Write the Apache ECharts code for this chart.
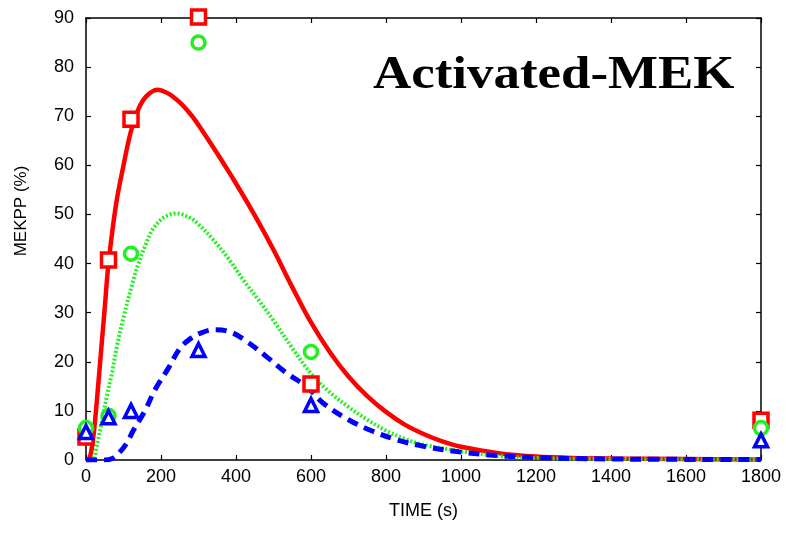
<!DOCTYPE html>
<html><head><meta charset="utf-8">
<script src="https://cdn.jsdelivr.net/npm/echarts@6/dist/echarts.min.js"></script>
<style>html,body{margin:0;padding:0;background:#fff}#c{width:786px;height:533px}</style>
</head><body><div id="c"></div>
<script>
// Experimental data points (time in s, MEKPP %)
const expTimes = [0, 60, 120, 300, 600, 1800];
const expRed = [4.7, 40.7, 69.4, 90.2, 15.5, 8.1];
const expGreen = [6.5, 9.0, 42.0, 85.0, 22.0, 6.5];
const expBlue = [5.7, 8.7, 10.0, 22.4, 11.2, 4.0];

// Model curves
const redT = [0, 10, 20, 30, 40, 50, 60, 80, 100, 120, 140, 160, 190, 220, 250, 280, 300, 350, 400, 450, 500, 550, 600, 650, 700, 750, 800, 850, 900, 950, 1000, 1100, 1200, 1300, 1400, 1600, 1800];
const redV = [0, 0.5, 5, 13, 22, 31, 40, 52, 60, 67, 71.5, 74, 75.4, 74.6, 72.8, 70.3, 68.2, 62.4, 56.3, 49.8, 42.8, 35.2, 28, 22, 17, 13, 9.8, 7.2, 5.3, 3.8, 2.7, 1.4, 0.7, 0.4, 0.3, 0.2, 0.1];

const greenT = [0, 20, 28, 40, 55, 70, 82, 100, 126, 140, 160, 180, 210, 242, 280, 300, 340, 380, 420, 464, 500, 550, 600, 650, 700, 750, 800, 850, 900, 1000, 1100, 1200, 1400, 1800];
const greenV = [0, 0.3, 2.7, 7, 12.8, 18, 23, 29, 36.6, 40, 44, 47.2, 49.5, 50.2, 49.2, 48, 44.8, 41, 36.6, 32.2, 28.4, 22.8, 17.6, 13.8, 10.8, 8.2, 6, 4.3, 3.1, 1.8, 0.8, 0.4, 0.2, 0.1];

const blueT = [0, 50, 70, 90, 110, 126, 157, 184, 219, 251, 280, 304, 340, 380, 424, 482, 535, 589, 632, 700, 760, 829, 900, 1000, 1100, 1200, 1400, 1800];
const blueV = [0, 0, 0.3, 1.6, 3.6, 6, 10, 14.3, 18.6, 22.8, 24.8, 25.8, 26.5, 26.2, 24.4, 21, 17.7, 14.9, 11.6, 8.2, 6, 4.1, 2.8, 1.6, 0.9, 0.5, 0.2, 0.1];

const xTicks = [0, 200, 400, 600, 800, 1000, 1200, 1400, 1600, 1800];
const titleText = 'Activated-MEK';

const zip = (a, b) => a.map((v, i) => [v, b[i]]);
const RED = '#ff0000', GREEN = '#22f022', BLUE = '#0000ff';
const font = 'Liberation Sans, Arial, sans-serif';

const chart = echarts.init(document.getElementById('c'));
const axisCommon = () => ({
  axisLine: {show: true, onZero: false, lineStyle: {color: '#000', width: 1.5}},
  axisTick: {show: true, inside: true, length: 5, lineStyle: {color: '#000', width: 1.2}},
  splitLine: {show: false}
});
chart.setOption({
  animation: false,
  grid: {left: 86, right: 25, top: 18, bottom: 73},
  graphic: [{
    type: 'text', left: 373, top: 53, scaleX: 1.15,
    style: {text: titleText, font: 'bold 46px "Liberation Serif", "Times New Roman", serif', fill: '#000'}
  }],
  xAxis: [
    Object.assign(axisCommon(), {
      type: 'value', min: 0, max: 1800, interval: 200, position: 'bottom',
      name: 'TIME (s)', nameLocation: 'middle', nameGap: 42,
      nameTextStyle: {fontFamily: font, fontSize: 18, color: '#000'},
      axisLabel: {fontFamily: font, fontSize: 18, color: '#000', margin: 8,
        formatter: v => xTicks.includes(v) ? String(v) : ''}
    }),
    Object.assign(axisCommon(), {
      type: 'value', min: 0, max: 1800, interval: 200, position: 'top',
      axisLabel: {show: false}
    })
  ],
  yAxis: [
    Object.assign(axisCommon(), {
      type: 'value', min: 0, max: 90, interval: 10, position: 'left',
      name: 'MEKPP (%)', nameLocation: 'middle', nameGap: 56,
      nameTextStyle: {fontFamily: font, fontSize: 17, color: '#000', padding: [0, 0, 0, 56]},
      axisLabel: {fontFamily: font, fontSize: 18, color: '#000', margin: 12}
    }),
    Object.assign(axisCommon(), {
      type: 'value', min: 0, max: 90, interval: 10, position: 'right',
      axisLabel: {show: false}
    })
  ],
  series: [
    {type: 'line', data: zip(redT, redV), showSymbol: false, smooth: 0.35,
      lineStyle: {color: RED, width: 4.5}, z: 2},
    {type: 'line', data: zip(greenT, greenV), showSymbol: false, smooth: 0.35,
      lineStyle: {color: GREEN, width: 4, type: [2, 2]}, z: 2},
    {type: 'line', data: zip(blueT, blueV), showSymbol: false, smooth: 0.35,
      lineStyle: {color: BLUE, width: 5, type: [11, 7]}, z: 2},
    {type: 'scatter', data: zip(expTimes, expRed), symbol: 'rect', symbolSize: 14, clip: false,
      itemStyle: {color: '#fff', borderColor: RED, borderWidth: 3.5, opacity: 1}, z: 3},
    {type: 'scatter', data: zip(expTimes, expGreen), symbol: 'circle', symbolSize: 13, clip: false,
      itemStyle: {color: '#fff', borderColor: GREEN, borderWidth: 3.5, opacity: 1}, z: 4},
    {type: 'scatter', data: zip(expTimes, expBlue), symbol: 'triangle', symbolSize: 13, clip: false,
      itemStyle: {color: '#fff', borderColor: BLUE, borderWidth: 3.5, opacity: 1}, z: 5}
  ]
});
</script>
</body></html>
